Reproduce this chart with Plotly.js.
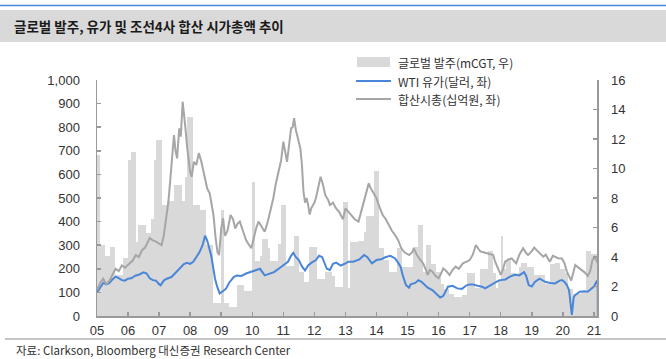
<!DOCTYPE html>
<html>
<head>
<meta charset="utf-8">
<script src="https://cdn.plot.ly/plotly-3.0.1.min.js"></script>
<style>
html,body{margin:0;padding:0;background:#fff;}
#chart{width:666px;height:359px;}
</style>
</head>
<body>
<div id="chart"></div>
<script>
// ---------------- data ----------------
const yearLabels = ['05','06','07','08','09','10','11','12','13','14','15','16','17','18','19','20','21'];
const firstYear = 2005;
const seriesNames = ['글로벌 발주(mCGT, 우)', 'WTI 유가(달러, 좌)', '합산시총(십억원, 좌)'];

// Global orders, mCGT (monthly, Jan 2005 .. Jan 2021), right axis
const orders = [
  10.9, 4.8, 4.8, 4.1, 4.1, 4.7, 4.7, 2.8, 2.8, 2.8, 3.9, 3.9,
  10.6, 11.1, 11.1, 5.0, 6.2, 6.2, 6.2, 5.6, 5.6, 6.6, 10.6, 11.9,
  11.9, 7.5, 7.5, 7.8, 7.8, 7.8, 8.9, 8.9, 8.9, 7.8, 9.4, 13.5,
  13.5, 7.5, 7.5, 7.5, 7.2, 7.2, 4.8, 4.8, 4.8, 0.9, 0.9, 0.9,
  7.2, 0.9, 0.9, 0.6, 0.6, 0.6, 2.1, 2.1, 2.1, 1.7, 1.7, 1.7,
  9.1, 3.7, 3.7, 4.1, 5.2, 5.2, 4.6, 3.7, 3.7, 3.7, 4.9, 7.5,
  7.5, 3.4, 3.4, 3.4, 5.4, 5.4, 3.0, 3.0, 2.3, 2.3, 4.7, 4.7,
  4.7, 2.5, 2.5, 2.5, 3.0, 3.0, 3.0, 2.7, 2.0, 2.0, 2.0, 7.7,
  7.7, 1.9, 5.0, 5.0, 5.0, 5.1, 5.1, 5.7, 6.8, 6.8, 6.8, 9.8,
  9.8, 4.6, 4.6, 3.8, 3.8, 3.0, 3.0, 3.0, 4.6, 4.6, 3.3, 3.3,
  3.3, 3.3, 4.7, 4.7, 6.2, 6.2, 3.0, 4.8, 4.8, 3.5, 3.5, 3.0,
  3.0, 2.2, 1.8, 1.8, 1.5, 1.5, 1.3, 1.3, 1.3, 1.4, 1.4, 2.9,
  2.9, 2.9, 1.9, 1.9, 3.2, 3.2, 3.2, 4.4, 4.4, 2.9, 1.9, 2.5,
  5.4, 3.2, 3.8, 3.8, 2.9, 2.9, 2.9, 3.3, 3.6, 3.6, 3.3, 3.3,
  3.3, 2.8, 2.8, 2.8, 2.8, 2.2, 2.2, 3.5, 3.5, 3.6, 3.6, 3.2,
  3.2, 2.9, 1.8, 1.8, 1.5, 1.5, 1.5, 1.7, 1.7, 4.4, 4.4, 4.2,
  4.2
];

// WTI (left axis), time in decimal years
const wtiTime = [
  2005.00,2005.05,2005.12,2005.20,2005.30,2005.40,2005.50,2005.60,2005.70,2005.80,2005.90,
  2006.00,2006.10,2006.25,2006.35,2006.50,2006.60,2006.70,2006.80,2006.90,
  2007.00,2007.05,2007.15,2007.25,2007.40,2007.50,2007.60,2007.70,2007.80,2007.90,
  2008.00,2008.10,2008.20,2008.30,2008.40,2008.48,2008.55,2008.62,2008.68,2008.75,2008.80,2008.88,2008.95,
  2009.05,2009.15,2009.25,2009.40,2009.50,2009.65,2009.80,2009.95,
  2010.10,2010.25,2010.40,2010.55,2010.70,2010.85,2010.95,
  2011.05,2011.15,2011.25,2011.32,2011.40,2011.50,2011.60,2011.70,2011.80,2011.90,
  2012.05,2012.15,2012.25,2012.40,2012.50,2012.60,2012.70,2012.85,
  2013.00,2013.10,2013.25,2013.45,2013.60,2013.70,2013.85,
  2014.00,2014.15,2014.30,2014.45,2014.60,2014.70,2014.78,2014.85,2014.95,
  2015.05,2015.10,2015.25,2015.35,2015.45,2015.55,2015.65,2015.80,2015.95,
  2016.05,2016.15,2016.30,2016.45,2016.60,2016.75,2016.90,
  2017.00,2017.10,2017.25,2017.40,2017.50,2017.60,2017.75,2017.90,
  2018.00,2018.15,2018.30,2018.45,2018.60,2018.75,2018.82,2018.90,
  2019.00,2019.10,2019.25,2019.35,2019.45,2019.60,2019.75,2019.90,2019.97,
  2020.05,2020.13,2020.20,2020.24,2020.29,2020.35,2020.40,2020.55,2020.70,2020.80,2020.93,
  2021.00,2021.08,2021.12,2021.125
];
const wtiValue = [
  100,110,120,140,134,140,155,167,160,152,150,
  158,160,172,175,185,180,160,152,150,
  135,130,150,158,165,178,190,207,220,225,
  221,230,250,270,300,340,320,280,254,200,158,120,96,
  105,115,140,165,172,170,180,186,
  193,200,172,180,186,200,210,
  220,230,255,268,250,237,210,193,214,225,
  237,255,250,200,195,221,226,214,
  223,230,230,240,258,250,223,
  237,240,250,255,244,225,207,170,131,
  120,134,140,152,145,131,120,110,90,
  78,85,124,128,117,115,130,
  134,134,128,124,117,125,138,148,
  152,155,167,175,172,186,170,131,
  125,144,158,150,144,140,138,150,152,
  145,131,110,61,5,80,89,103,105,103,117,
  125,145,152,0
];

// Combined market cap of 4 shipbuilders (left axis)
const capTime = [
  2005.00,2005.10,2005.20,2005.30,2005.40,2005.50,2005.60,2005.70,2005.80,2005.90,
  2006.05,2006.15,2006.25,2006.35,2006.45,2006.55,2006.70,2006.80,2006.90,
  2007.00,2007.08,2007.15,2007.22,2007.30,2007.35,2007.42,2007.48,2007.53,2007.58,2007.65,2007.70,2007.76,2007.80,2007.85,2007.90,2007.95,
  2008.00,2008.05,2008.12,2008.20,2008.28,2008.35,2008.45,2008.55,2008.63,2008.70,2008.75,2008.82,2008.88,2008.93,
  2009.00,2009.06,2009.12,2009.20,2009.30,2009.38,2009.45,2009.52,2009.60,2009.70,2009.80,2009.90,2009.97,
  2010.05,2010.12,2010.20,2010.30,2010.40,2010.50,2010.60,2010.68,2010.75,2010.85,2010.93,
  2011.00,2011.08,2011.12,2011.20,2011.25,2011.30,2011.35,2011.40,2011.45,2011.50,2011.55,2011.60,2011.65,2011.70,2011.75,2011.80,2011.85,2011.90,
  2012.00,2012.05,2012.12,2012.20,2012.27,2012.35,2012.45,2012.50,2012.60,2012.70,2012.80,2012.85,2012.92,
  2013.00,2013.10,2013.20,2013.30,2013.42,2013.50,2013.60,2013.68,2013.75,2013.80,2013.90,
  2014.00,2014.10,2014.20,2014.30,2014.40,2014.50,2014.60,2014.70,2014.80,2014.90,
  2015.05,2015.15,2015.20,2015.30,2015.40,2015.50,2015.58,2015.65,2015.72,2015.80,2015.90,
  2016.00,2016.08,2016.15,2016.25,2016.35,2016.45,2016.55,2016.65,2016.78,2016.90,
  2017.00,2017.10,2017.20,2017.28,2017.35,2017.45,2017.55,2017.65,2017.76,2017.82,2017.90,
  2018.00,2018.08,2018.14,2018.25,2018.35,2018.45,2018.50,2018.60,2018.72,2018.80,2018.88,
  2019.00,2019.08,2019.15,2019.25,2019.37,2019.45,2019.58,2019.68,2019.75,2019.85,2019.97,
  2020.05,2020.13,2020.20,2020.27,2020.33,2020.40,2020.50,2020.60,2020.70,2020.80,2020.88,2020.95,
  2021.02,2021.10,2021.13
];
const capValue = [
  110,140,158,135,150,175,200,190,214,205,
  221,235,258,250,279,290,330,320,315,
  305,300,340,400,484,560,668,767,700,668,795,760,908,840,795,720,668,
  611,590,653,640,690,660,597,540,520,470,428,330,270,258,
  371,414,340,360,428,410,371,390,400,360,322,300,287,
  330,370,400,380,357,400,456,500,555,611,660,
  739,680,653,740,795,800,838,790,767,740,710,640,527,480,500,470,430,456,
  480,499,540,590,560,513,490,470,480,456,440,428,410,
  456,440,428,410,400,442,490,527,562,545,520,
  499,460,428,410,386,360,343,320,287,270,
  258,270,287,258,240,223,200,174,195,188,170,
  160,180,202,190,174,195,209,200,223,230,
  237,260,301,285,273,270,266,262,258,230,202,
  174,200,230,240,244,230,223,260,287,270,258,
  275,290,280,266,251,260,230,255,251,245,244,
  225,188,170,150,180,216,205,195,185,170,190,237,
  250,230,223
];

// ---------------- helpers ----------------
function decToDate(t){
  const y = Math.floor(t);
  const start = Date.UTC(y,0,1), end = Date.UTC(y+1,0,1);
  return new Date(start + (t - y) * (end - start)).toISOString().slice(0,19).replace('T',' ');
}
const monthX = orders.map((_, i) => {
  const y = firstYear + Math.floor(i / 12), m = i % 12;
  const a = Date.UTC(y, m, 1), b = Date.UTC(y, m + 1, 1);
  return new Date((a + b) / 2).toISOString().slice(0,19).replace('T',' ');
});
const monthW = orders.map((_, i) => {
  const y = firstYear + Math.floor(i / 12), m = i % 12;
  return Date.UTC(y, m + 1, 1) - Date.UTC(y, m, 1);
});
const tickVals = yearLabels.map((_, i) => (firstYear + i) + '-01-01');

// layout pixel helpers (plot area 97..597 x 80..316)
const PL = 97, PR = 597, PT = 80, PB = 316;
const px = p => (p - PL) / (PR - PL);
const py = p => (PB - p) / (PB - PT);

const fontKR = '"Noto Sans CJK KR", "Noto Sans", sans-serif';
const fontNum = '"Liberation Sans", Arial, sans-serif';

const BAR_COLOR = '#d9d9d9', WTI_COLOR = '#4a86d8', CAP_COLOR = '#a6a6a6';

const traces = [
  {
    type: 'bar', name: seriesNames[0],
    x: monthX, y: orders, width: monthW,
    marker: {color: BAR_COLOR, line: {width: 0}},
    yaxis: 'y', hoverinfo: 'skip', showlegend: false
  },
  {
    type: 'scatter', mode: 'lines', name: seriesNames[1],
    x: wtiTime.map(decToDate), y: wtiValue,
    line: {color: WTI_COLOR, width: 2}, yaxis: 'y2', showlegend: false
  },
  {
    type: 'scatter', mode: 'lines', name: seriesNames[2],
    x: capTime.map(decToDate), y: capValue,
    line: {color: CAP_COLOR, width: 2}, yaxis: 'y2', showlegend: false
  }
];

const axisCommon = {
  showgrid: false, zeroline: false, showline: true,
  linecolor: '#9a9a9a', linewidth: 1.5,
  ticks: 'inside', ticklen: 4, tickcolor: '#9a9a9a', tickwidth: 1.5,
  tickfont: {family: fontNum, size: 13, color: '#333'}
};

// legend rows (manual, pixel positions)
const legRows = [62, 81, 99];
const legX0 = 356, legX1 = 391, legText = 396;

const shapes = [
  {type: 'rect', xref: 'paper', yref: 'paper', x0: px(0), x1: px(666), y0: py(42), y1: py(10),
   fillcolor: '#d9d9d9', line: {width: 0}, layer: 'below'},
  {type: 'line', xref: 'paper', yref: 'paper', x0: px(0), x1: px(666), y0: py(5.5), y1: py(5.5),
   line: {color: WTI_COLOR, width: 1.5}},
  {type: 'line', xref: 'paper', yref: 'paper', x0: px(5), x1: px(666), y0: py(339), y1: py(339),
   line: {color: '#8c8c8c', width: 1}},
  {type: 'rect', xref: 'paper', yref: 'paper', x0: px(legX0 + 1), x1: px(legX1 - 1),
   y0: py(legRows[0] + 5), y1: py(legRows[0] - 5), fillcolor: BAR_COLOR, line: {width: 0}},
  {type: 'line', xref: 'paper', yref: 'paper', x0: px(legX0), x1: px(legX1),
   y0: py(legRows[1]), y1: py(legRows[1]), line: {color: WTI_COLOR, width: 2}},
  {type: 'line', xref: 'paper', yref: 'paper', x0: px(legX0), x1: px(legX1),
   y0: py(legRows[2]), y1: py(legRows[2]), line: {color: CAP_COLOR, width: 2}}
];

const annotations = [
  {xref: 'paper', yref: 'paper', x: px(12), y: py(26), xanchor: 'left', yanchor: 'middle',
   text: '<b>글로벌 발주, 유가 및 조선4사 합산 시가총액 추이</b>', showarrow: false,
   font: {family: fontKR, size: 13.5, color: '#1a1a1a'}},
  {xref: 'paper', yref: 'paper', x: px(14), y: py(350), xanchor: 'left', yanchor: 'middle',
   text: '자료: Clarkson, Bloomberg 대신증권 Research Center', showarrow: false,
   font: {family: fontKR, size: 11.5, color: '#333'}}
].concat(seriesNames.map((n, i) => ({
  xref: 'paper', yref: 'paper', x: px(legText), y: py(legRows[i]), xanchor: 'left', yanchor: 'middle',
  text: n, showarrow: false, font: {family: fontKR, size: 12, color: '#333'}
})));

const layout = {
  width: 666, height: 359,
  margin: {l: PL, r: 666 - PR, t: PT, b: 359 - PB, pad: 0},
  paper_bgcolor: '#fff', plot_bgcolor: '#fff',
  showlegend: false,
  bargap: 0,
  xaxis: Object.assign({}, axisCommon, {
    type: 'date',
    range: ['2005-01-01', '2021-02-06'],
    tickvals: tickVals, ticktext: yearLabels,
    ticklabelstandoff: 2
  }),
  yaxis: Object.assign({}, axisCommon, {
    side: 'right', range: [0, 16], dtick: 2, tick0: 0,
    ticklabelstandoff: 10
  }),
  yaxis2: Object.assign({}, axisCommon, {
    side: 'left', overlaying: 'y', range: [0, 1000], dtick: 100, tick0: 0,
    tickformat: ',d', ticklabelstandoff: 13
  }),
  shapes: shapes,
  annotations: annotations
};

Plotly.newPlot('chart', traces, layout, {displayModeBar: false, staticPlot: true});
</script>
</body>
</html>
